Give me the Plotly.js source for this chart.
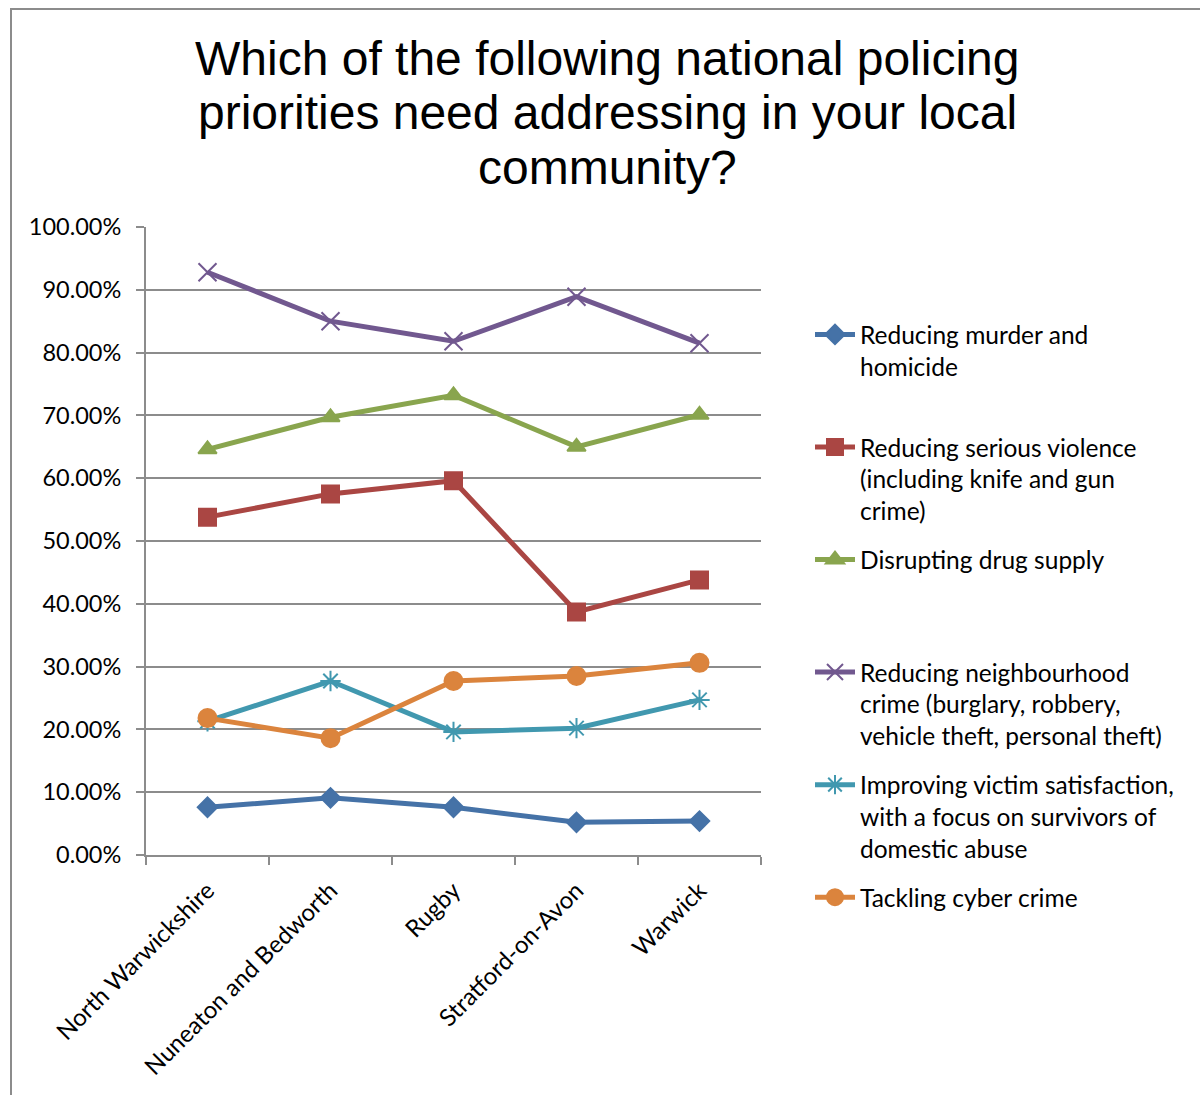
<!DOCTYPE html>
<html>
<head>
<meta charset="utf-8">
<script src="https://cdn.plot.ly/plotly-3.0.1.min.js"></script>
<style>
  html, body { margin: 0; padding: 0; background: #fff; }
  #wrap { position: relative; width: 1200px; height: 1095px; overflow: hidden; }
  #frame { position: absolute; left: 10px; top: 8px; width: 1300px; height: 1200px; border: 2px solid #8c8c8c; box-sizing: border-box; pointer-events: none; z-index: 5; }
  #chart { position: absolute; left: 0; top: 0; width: 1200px; height: 1095px; }
</style>
</head>
<body>
<div id="wrap">
  <div id="chart"></div>
  <div id="frame"></div>
</div>
<script>
const categories = ["North Warwickshire", "Nuneaton and Bedworth", "Rugby", "Stratford-on-Avon", "Warwick"];

const murder = [0.076, 0.091, 0.076, 0.052, 0.054];
const violence = [0.538, 0.575, 0.596, 0.387, 0.438];
const drugs = [0.646, 0.697, 0.732, 0.650, 0.701];
const neighbourhood = [0.928, 0.850, 0.818, 0.889, 0.815];
const victim = [0.213, 0.277, 0.196, 0.202, 0.247];
const cyber = [0.218, 0.186, 0.277, 0.285, 0.306];

const titleLines = [
  "Which of the following national policing",
  "priorities need addressing in your local",
  "community?"
];

const seriesNames = [
  "Reducing murder and<br>homicide<br> ",
  "Reducing serious violence<br>(including knife and gun<br>crime)",
  "Disrupting drug supply<br> <br> ",
  "Reducing neighbourhood<br>crime (burglary, robbery,<br>vehicle theft, personal theft)",
  "Improving victim satisfaction,<br>with a focus on survivors of<br>domestic abuse",
  "Tackling cyber crime<br> <br> "
];
const seriesValues = [murder, violence, drugs, neighbourhood, victim, cyber];
const seriesColors = ["#4572A7", "#AA4643", "#89A54E", "#71588F", "#4198AF", "#DB843D"];
const seriesSymbols = ["diamond", "square", "triangle-up", "x-thin-open", "asterisk-open", "circle"];
const seriesSizes = [15, 17, 16, 18, 17, 18];

const traces = seriesValues.map((vals, i) => ({
  type: "scatter",
  mode: "lines+markers",
  x: categories,
  y: vals,
  name: seriesNames[i],
  legendgroup: "g" + i,
  line: { color: seriesColors[i], width: 5 },
  marker: {
    symbol: seriesSymbols[i],
    size: seriesSizes[i],
    color: seriesColors[i],
    line: { color: seriesColors[i], width: 2 }
  },
  hoverinfo: "x+y+name"
}));

const titleCenters = [58, 113, 167];
const annotations = titleLines.map((t, i) => ({
  text: t,
  xref: "paper",
  yref: "paper",
  x: (607 - 146) / (761 - 146),
  y: (855 - titleCenters[i]) / (855 - 227),
  xanchor: "center",
  yanchor: "middle",
  showarrow: false,
  font: { family: "'Liberation Sans', Arial, sans-serif", size: 48, color: "#000000" }
}));

const layout = {
  width: 1200,
  height: 1095,
  paper_bgcolor: "#ffffff",
  plot_bgcolor: "#ffffff",
  margin: { l: 146, r: 439, t: 227, b: 240 },
  font: { family: "Lato, 'Open Sans', sans-serif", color: "#000000", size: 23 },
  annotations: annotations,
  xaxis: {
    type: "category",
    range: [-0.5, 4.5],
    tickangle: -45,
    tickson: "boundaries",
    ticks: "outside",
    ticklen: 8,
    tickwidth: 2,
    tickcolor: "#8c8c8c",
    ticklabelstandoff: 10,
    showline: true,
    linecolor: "#8c8c8c",
    linewidth: 2,
    showgrid: false,
    zeroline: false,
    tickfont: { size: 24 },
    fixedrange: true
  },
  yaxis: {
    range: [0, 1],
    dtick: 0.1,
    tick0: 0,
    tickformat: ".2%",
    ticks: "outside",
    ticklen: 8,
    tickwidth: 2,
    tickcolor: "#8c8c8c",
    ticklabelstandoff: 10,
    showline: true,
    linecolor: "#8c8c8c",
    linewidth: 2,
    showgrid: true,
    gridcolor: "#8c8c8c",
    gridwidth: 2,
    zeroline: false,
    tickfont: { size: 23.5 },
    fixedrange: true
  },
  legend: {
    x: 810 / 1200,
    xref: "container",
    xanchor: "left",
    y: 1 - 312 / 1095,
    yref: "container",
    yanchor: "top",
    valign: "top",
    tracegroupgap: 14,
    itemwidth: 40,
    maxheight: 760,
    font: { size: 24.5 },
    bgcolor: "rgba(0,0,0,0)"
  },
  showlegend: true
};

Plotly.newPlot("chart", traces, layout, { displayModeBar: false });
</script>
</body>
</html>
